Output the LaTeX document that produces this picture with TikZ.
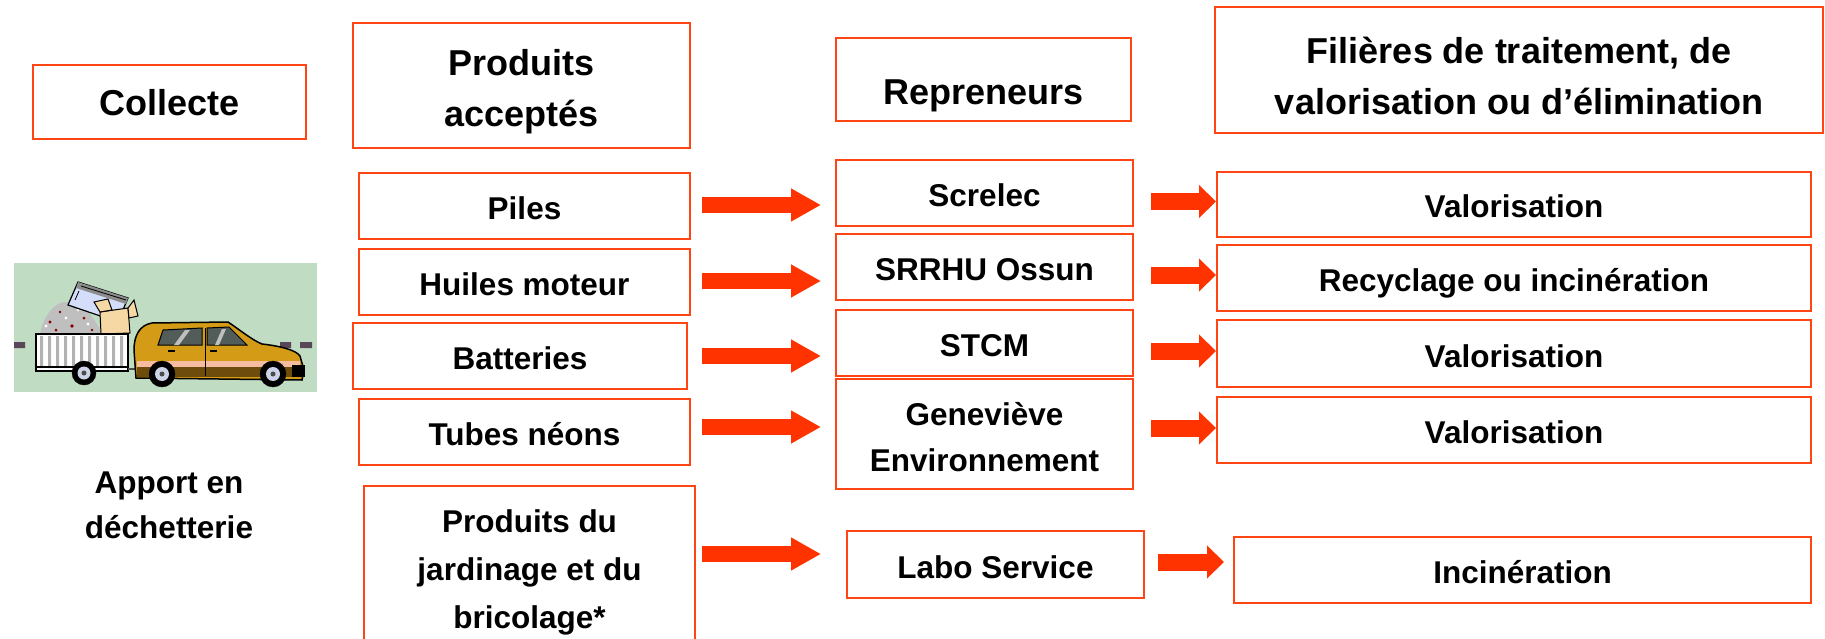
\documentclass[tikz,border=0pt]{standalone}
\usepackage{fontspec}
\setmainfont{Liberation Sans}
\usetikzlibrary{arrows.meta,calc}
\definecolor{boxred}{RGB}{255,69,20}
\definecolor{arrred}{RGB}{255,51,0}
\definecolor{carbg}{RGB}{192,220,194}
\definecolor{road}{RGB}{90,70,90}
\definecolor{carbody}{RGB}{212,156,22}
\definecolor{carpink}{RGB}{246,188,160}
\definecolor{carbot}{RGB}{110,76,12}
\definecolor{window}{RGB}{82,92,88}
\definecolor{hub}{RGB}{205,212,232}
\definecolor{appl}{RGB}{212,222,250}
\definecolor{cardb}{RGB}{246,216,164}
\begin{document}
\begin{tikzpicture}[x=1pt,y=-1pt,
  box/.style={draw=boxred, line width=2pt, inner sep=0pt, outer sep=0pt, align=center,
    font=\fontsize{31.5}{46}\selectfont\bfseries},
  titlebox/.style={box, font=\fontsize{36}{51}\selectfont\bfseries},
  single/.style={text height=27pt, text depth=0pt},
  titlesingle/.style={text height=28pt, text depth=0pt},
  fatL/.style={arrred, line width=16pt, -{Triangle[length=30pt,width=31pt]}},
  fatR/.style={arrred, line width=17pt, -{Triangle[length=17pt,width=32pt]}}]
\useasboundingbox (0,0) rectangle (1825,639);
\fill[white] (0,0) rectangle (1825,639);

% headers
\node[titlebox, titlesingle, minimum width=273pt, minimum height=74pt] (col) at (169.5,102) {Collecte};
\node[titlebox, minimum width=337pt, minimum height=125pt] (prod) at (521.5,85.5) {\rule{0pt}{38pt}Produits\\accept\'es};
\node[titlebox, text height=50pt, text depth=0pt, minimum width=295pt, minimum height=83pt] (rep) at (983.5,79.5) {Repreneurs};
\node[titlebox, minimum width=608pt, minimum height=126pt] (fil) at (1519,70) {\rule{0pt}{38pt}Fili\`eres de traitement, de\\valorisation ou d’\'elimination};

% products
\node[box, single, minimum width=331pt, minimum height=66pt] (p1) at (524.5,206) {Piles};
\node[box, single, minimum width=331pt, minimum height=66pt] (p2) at (524.5,282) {Huiles moteur};
\node[box, single, minimum width=334pt, minimum height=66pt] (p3) at (520,356) {Batteries};
\node[box, single, minimum width=331pt, minimum height=66pt] (p4) at (524.5,432) {Tubes n\'eons};
\node[box, font=\fontsize{31.5}{48}\selectfont\bfseries, minimum width=331pt, minimum height=172pt] (p5) at (529.5,572) {Produits du\\jardinage et du\\bricolage*};

% buyers
\node[box, single, minimum width=297pt, minimum height=66pt] (r1) at (984.5,193) {Screlec};
\node[box, single, minimum width=297pt, minimum height=66pt] (r2) at (984.5,267) {SRRHU Ossun};
\node[box, single, minimum width=297pt, minimum height=66pt] (r3) at (984.5,343) {STCM};
\node[box, minimum width=297pt, minimum height=110pt] (r4) at (984.5,434) {\rule{0pt}{30pt}Genevi\`eve\\Environnement};
\node[box, single, minimum width=297pt, minimum height=67pt] (r5) at (995.5,564.5) {Labo Service};

% treatment
\node[box, single, minimum width=594pt, minimum height=65pt] (f1) at (1514,204.5) {Valorisation};
\node[box, single, minimum width=594pt, minimum height=66pt] (f2) at (1514,278) {Recyclage ou incin\'eration};
\node[box, single, minimum width=594pt, minimum height=67pt] (f3) at (1514,353.5) {Valorisation};
\node[box, single, minimum width=594pt, minimum height=66pt] (f4) at (1514,430) {Valorisation};
\node[box, single, minimum width=577pt, minimum height=66pt] (f5) at (1522.5,570) {Incin\'eration};

\node[align=center, font=\fontsize{31.5}{45}\selectfont\bfseries] (apport) at (169,505) {Apport en\\d\'echetterie};

% arrows
\draw[fatL] ($(p1.east)+(12,-1)$) -- ($(r1.west |- p1.east)+(-15,-1)$);
\draw[fatL] ($(p2.east)+(12,-1)$) -- ($(r2.west |- p2.east)+(-15,-1)$);
\draw[fatL] ($(p3.east)+(15,0)$) -- ($(r3.west |- p3.east)+(-15,0)$);
\draw[fatL] ($(p4.east)+(12,-5)$) -- ($(r4.west |- p4.east)+(-15,-5)$);
\draw[fatL] ($(p5.east)+(7,-18)$) -- ($(r5.west |- p5.east)+(-26,-18)$);

\draw[fatR] ($(r1.east |- f1.west)+(18,-3)$) -- ($(f1.west)+(-1,-3)$);
\draw[fatR] ($(r2.east |- f2.west)+(18,-3)$) -- ($(f2.west)+(-1,-3)$);
\draw[fatR] ($(r3.east |- f3.west)+(18,-2.5)$) -- ($(f3.west)+(-1,-2.5)$);
\draw[fatR] ($(r4.east |- f4.west)+(18,-2)$) -- ($(f4.west)+(-1,-2)$);
\draw[fatR] ($(r5.east |- f5.west)+(14,-8)$) -- ($(f5.west)+(-10,-8)$);

% car with trailer
\fill[carbg] (14,263) rectangle (317,392);
\fill[road] (14,342) rectangle (25,348) (280,342) rectangle (291,348) (300,342) rectangle (312,348);
\fill[black!25] (40,335) .. controls (42,318) and (55,301) .. (66,302) .. controls (80,300) and (96,318) .. (102,335) -- cycle;
\fill[red!55!black] (50,322) circle (1.6) (60,312) circle (1.4) (72,326) circle (1.8) (84,318) circle (1.5) (56,330) circle (1.5) (92,330) circle (1.4);
\fill[white] (46,326) circle (1.6) (66,318) circle (1.6) (78,310) circle (1.4) (88,324) circle (1.6);
\filldraw[fill=appl, draw=black, line width=1.2pt] (78,282) -- (128,298) -- (118,322) -- (68,305) -- cycle;
\fill[black!45] (78,282) -- (128,298) -- (126,304) -- (76,288) -- cycle;
\draw[black, line width=0.8pt] (81,286) -- (126,300) (75,300) -- (79,291);
\filldraw[fill=cardb, draw=black, line width=1pt] (100,312) -- (128,308) -- (130,333) -- (101,334) -- cycle;
\filldraw[fill=cardb, draw=black, line width=1pt] (100,312) -- (94,302) -- (108,299) -- (112,310) -- cycle;
\filldraw[fill=cardb, draw=black, line width=1pt] (128,308) -- (134,300) -- (138,316) -- (129,318) -- cycle;
\filldraw[fill=white, draw=black, line width=1.5pt] (36,334) rectangle (128,371);
\fill[black!30] (40,336) rectangle (43,368) (48,336) rectangle (51,368) (56,336) rectangle (59,368)
  (64,336) rectangle (67,368) (72,336) rectangle (75,368) (80,336) rectangle (83,368)
  (88,336) rectangle (91,368) (96,336) rectangle (99,368) (104,336) rectangle (107,368)
  (112,336) rectangle (115,368) (120,336) rectangle (123,368);
\draw[black, line width=1.5pt] (36,367) -- (128,367);
\draw[black!70, line width=2.5pt] (128,369) -- (137,369);
\filldraw[fill=carbody, draw=black, line width=1.5pt] (136,378) -- (134,350)
  .. controls (134,335) and (140,325) .. (152,323) -- (228,322)
  .. controls (240,330) and (252,340) .. (262,344)
  .. controls (280,346) and (296,350) .. (300,356) -- (304,370) -- (302,380) -- cycle;
\fill[carpink] (137,361) rectangle (300,367);
\fill[carbot] (137,367) rectangle (302,377);
\fill[black] (292,365) rectangle (305,377);
\filldraw[fill=window, draw=black, line width=1pt] (163,330) -- (202,328) -- (202,345) -- (158,345) -- cycle;
\filldraw[fill=window, draw=black, line width=1pt] (207,328) -- (229,327) -- (247,345) -- (207,345) -- cycle;
\fill[black!25] (174,345) -- (185,330) -- (190,330) -- (179,345) -- cycle;
\fill[black!25] (215,345) -- (222,329) -- (226,329) -- (219,345) -- cycle;
\draw[black, line width=1pt] (205,328) -- (205,376);
\draw[black, line width=1.5pt] (168,351) -- (175,351) (210,351) -- (217,351);
\filldraw[black] (162,374) circle (13);
\fill[hub] (162,374) circle (7);
\fill[black!70] (162,374) circle (2.5);
\filldraw[black] (273,374) circle (13);
\fill[hub] (273,374) circle (7);
\fill[black!70] (273,374) circle (2.5);
\filldraw[black] (84,373) circle (12);
\fill[hub] (84,373) circle (6.5);
\fill[black!70] (84,373) circle (2.5);

\end{tikzpicture}
\end{document}
